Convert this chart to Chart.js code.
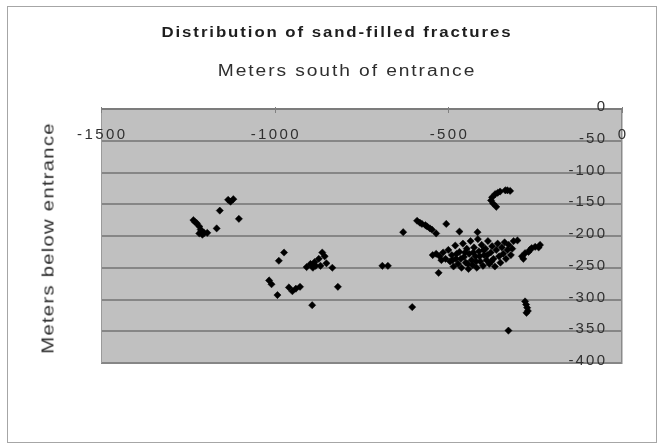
<!DOCTYPE html>
<html>
<head>
<meta charset="utf-8">
<script src="https://cdn.jsdelivr.net/npm/chart.js@4/dist/chart.umd.min.js"></script>
<style>
  html, body { margin: 0; padding: 0; background: #ffffff; }
  #wrap { position: relative; width: 660px; height: 444px; overflow: hidden; }
  #outline { position: absolute; left: 7px; top: 6px; width: 650px; height: 437px;
             box-sizing: border-box; border: 1px solid #a6a6a6; }
  #panel { position: absolute; left: 101px; top: 109px; width: 521px; height: 254px; background: #c0c0c0; }
  #c { position: absolute; left: 0; top: 0; }
  .txt { position: absolute; white-space: nowrap; line-height: 1;
         font-family: "Liberation Sans", Arial, sans-serif; }
  #title { left: 337px; top: 32px; font-size: 14px; font-weight: bold; color: #1e1e1e;
           letter-spacing: 1.6px; transform: translate(-50%, -50%) scaleX(1.2); }
  #xtitle { left: 347px; top: 71px; font-size: 16px; color: #2e2e2e;
            letter-spacing: 1.6px; transform: translate(-50%, -50%) scaleX(1.2); }
  #ytitle { left: 48px; top: 238px; font-size: 17px; color: #2e2e2e;
            letter-spacing: 1px; transform: translate(-50%, -50%) rotate(-90deg) scaleX(1.2); }
</style>
</head>
<body>
<div id="wrap">
  <div id="outline"></div>
  <div id="panel"></div>
  <canvas id="c" width="660" height="444"></canvas>
  <div class="txt" id="title">Distribution of sand-filled fractures</div>
  <div class="txt" id="xtitle">Meters south of entrance</div>
  <div class="txt" id="ytitle">Meters below entrance</div>
</div>
<script>
// Horizontal distance south of the entrance (m) and depth below it (m), one entry per fracture
const southM = [
  -1234, -1229, -1224, -1217, -1213, -1210, -1203, -1217, -1194, -1208,
  -1167, -1158, -1134, -1127, -1119, -1103,
  -973, -988, -908, -897, -890, -885, -873, -863, -856, -851, -868, -882,
  -834, -1016, -1009, -992, -959, -949, -939, -927, -818, -892,
  -690, -674, -604, -630,
  -590, -582, -576, -566, -561, -553, -547, -535, -506, -468, -416,
  -322, -330, -336, -351, -358, -365, -374, -377, -371, -362,
  -288, -284, -279, -269, -265, -260, -250, -240, -236, -301,
  -279, -276, -273, -271, -275, -327, -528,
  -545, -535, -525, -515, -508, -520,
  -500, -495, -490, -488, -485, -480, -478, -476, -472, -468, -464, -462,
  -458, -455, -452, -450, -447, -444, -442, -440, -436, -433, -430, -428,
  -426, -422, -420, -418, -415, -412, -410, -408, -404, -400, -398, -397,
  -393, -390, -388, -386, -382, -378, -376, -374, -370, -366, -362, -358,
  -354, -350, -346, -342, -338, -334, -330, -326, -320, -316, -312
];
const depthM = [
  -175, -178, -180, -185, -190, -193, -195, -196, -195, -198,
  -188, -160, -143, -146, -142, -173,
  -226, -239, -249, -244, -250, -241, -236, -226, -232, -243, -247, -247,
  -250, -270, -276, -293, -281, -287, -283, -280, -280, -309,
  -247, -247, -312, -194,
  -176, -179, -181, -183, -185, -188, -190, -196, -181, -193, -194,
  -129, -128, -128, -130, -132, -134, -139, -144, -149, -154,
  -232, -236, -227, -225, -222, -219, -217, -218, -214, -207,
  -303, -308, -313, -318, -321, -349, -258,
  -230, -228, -232, -226, -236, -238,
  -222, -240, -230, -238, -248, -215, -236, -228, -244, -225, -236, -250,
  -212, -233, -226, -242, -220, -244, -252, -228, -208, -238, -246, -226,
  -218, -232, -240, -250, -205, -224, -232, -240, -214, -247, -222, -230,
  -220, -238, -230, -208, -244, -226, -240, -216, -236, -248, -222, -212,
  -232, -242, -218, -228, -210, -236, -222, -214, -230, -220, -208
];
const xTicks = [-1500, -1000, -500, 0];
const yTicks = [0, -50, -100, -150, -200, -250, -300, -350, -400];

const points = southM.map((x, i) => ({ x: x, y: depthM[i] }));

const TICK_FONT = '15px "Liberation Sans", Arial, sans-serif';

// Tick text with a little extra space between characters, drawn glyph by glyph
function spacedText(ctx, text, x, y, align, spacing) {
  const chars = Array.from(text);
  const widths = chars.map(c => ctx.measureText(c).width);
  const total = widths.reduce((s, w) => s + w, 0) + spacing * (chars.length - 1);
  let cx = align === 'right' ? x - total : x - total / 2;
  chars.forEach((c, i) => {
    ctx.fillText(c, cx, y);
    cx += widths[i] + spacing;
  });
}

const frame = {
  id: 'frame',
  beforeDraw(chart) {
    const ctx = chart.ctx, a = chart.chartArea;
    ctx.save();
    ctx.fillStyle = '#c0c0c0';
    ctx.fillRect(a.left, a.top, a.right - a.left, a.bottom - a.top);
    ctx.restore();
  },
  afterDatasetsDraw(chart) {
    const ctx = chart.ctx, a = chart.chartArea;
    const xs = chart.scales.x, ys = chart.scales.y;
    const top = ys.getPixelForValue(0);
    ctx.save();
    ctx.lineWidth = 1;
    ctx.strokeStyle = '#9a9a9a';
    ctx.beginPath();
    ctx.moveTo(a.left + 0.5, a.top);
    ctx.lineTo(a.left + 0.5, a.bottom);
    ctx.stroke();
    ctx.strokeStyle = '#7c7c7c';
    ctx.lineWidth = 2;
    ctx.beginPath();
    ctx.moveTo(a.left, top);
    ctx.lineTo(a.right, top);
    ctx.stroke();
    ctx.lineWidth = 1;
    ctx.strokeStyle = '#808080';
    xTicks.forEach(v => {
      const px = Math.round(xs.getPixelForValue(v)) + 0.5;
      ctx.beginPath();
      ctx.moveTo(px, top - 2);
      ctx.lineTo(px, top + 4);
      ctx.stroke();
    });

    ctx.font = TICK_FONT;
    ctx.fillStyle = '#303030';
    ctx.textAlign = 'left';
    ctx.textBaseline = 'middle';
    xTicks.forEach(v => {
      spacedText(ctx, String(v), xs.getPixelForValue(v), top + 26, 'center', 2.4);
    });
    yTicks.forEach(v => {
      spacedText(ctx, String(v), a.right - 17, ys.getPixelForValue(v) - 2, 'right', 2.2);
    });
    ctx.restore();
  }
};

new Chart(document.getElementById('c'), {
  type: 'scatter',
  data: {
    datasets: [{
      data: points,
      pointStyle: 'rectRot',
      pointRadius: 3.6,
      pointBackgroundColor: '#000000',
      pointBorderColor: '#000000',
      pointBorderWidth: 0.5
    }]
  },
  options: {
    responsive: false,
    animation: false,
    events: [],
    layout: { padding: { left: 101, right: 38, top: 109, bottom: 81 } },
    plugins: {
      legend: { display: false },
      tooltip: { enabled: false },
      title: { display: false }
    },
    scales: {
      x: { type: 'linear', min: -1500, max: 0, display: false },
      y: {
        type: 'linear', min: -400, max: 0, position: 'right',
        ticks: { display: false, stepSize: 50 },
        grid: { color: '#868686', lineWidth: 2, drawTicks: false },
        border: { display: true, color: '#8a8a8a', width: 1.5 }
      }
    }
  },
  plugins: [frame]
});
</script>
</body>
</html>
